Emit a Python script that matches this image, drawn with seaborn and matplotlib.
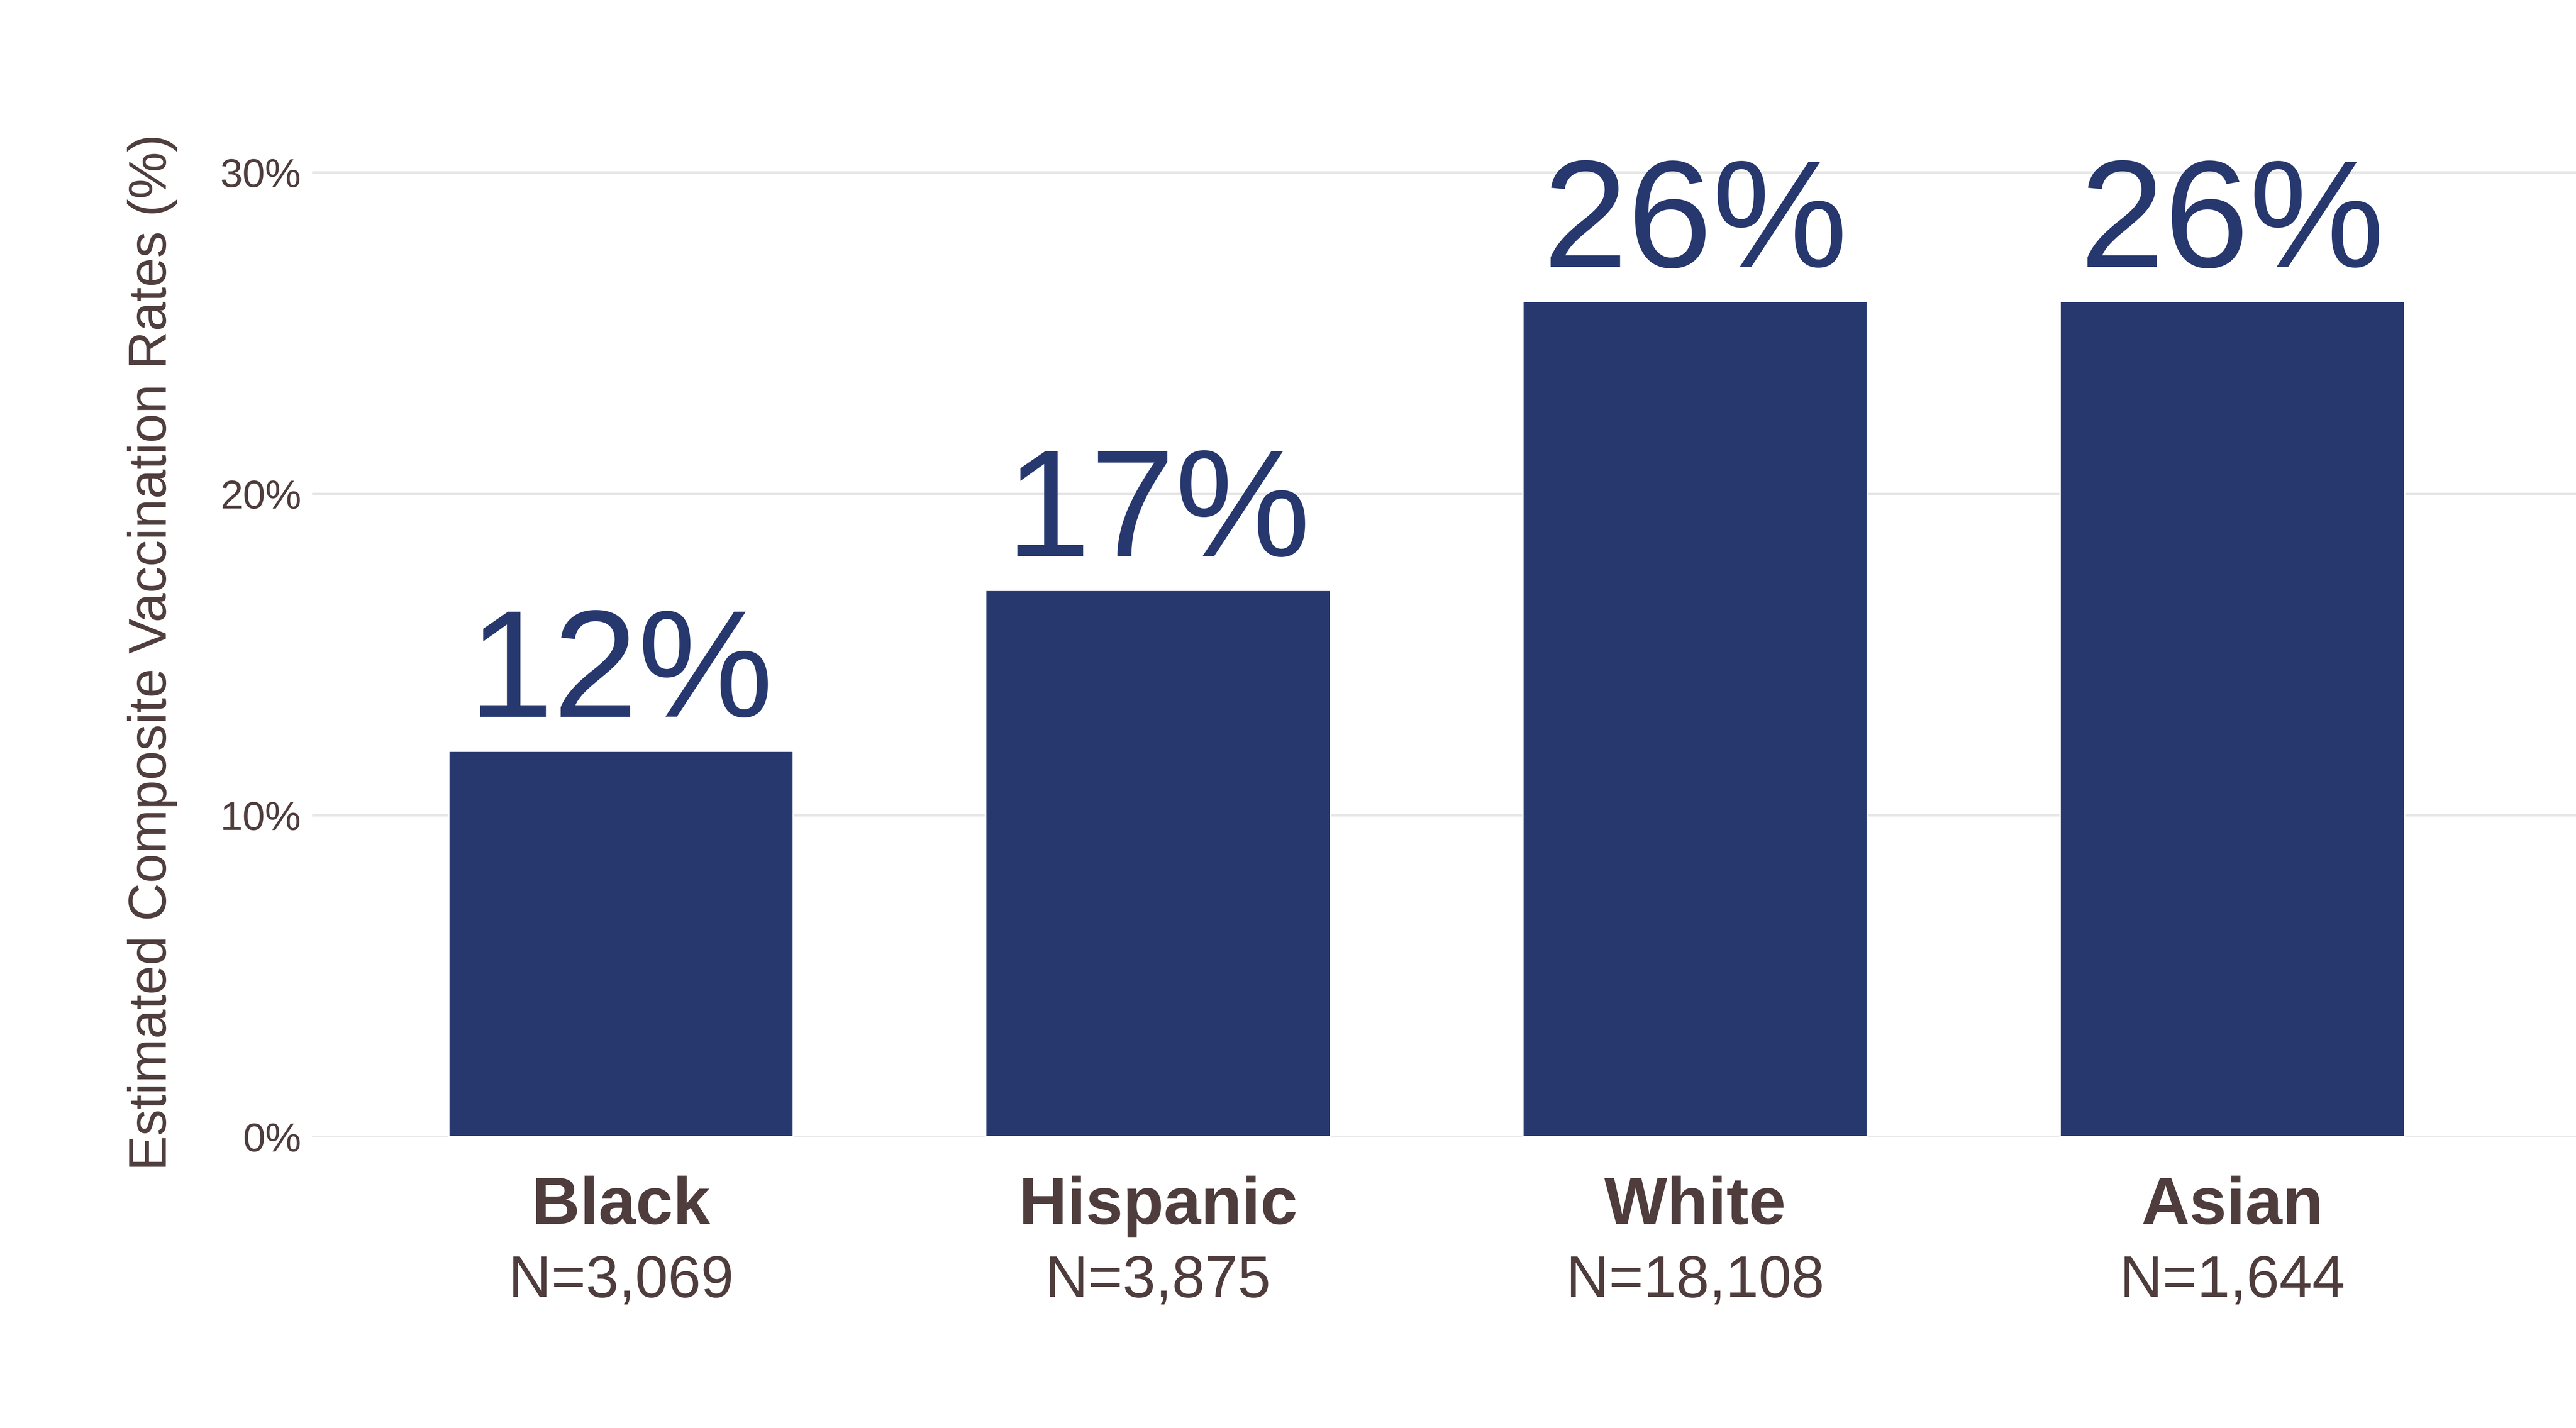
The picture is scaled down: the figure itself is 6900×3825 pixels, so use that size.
import matplotlib
matplotlib.use("Agg")
import matplotlib.pyplot as plt
import seaborn as sns
import pandas as pd

# values
groups = ["Black", "Hispanic", "White", "Asian"]
rates = [12, 17, 26, 26]
sample_sizes = ["N=3,069", "N=3,875", "N=18,108", "N=1,644"]
y_ticks = [0, 10, 20, 30]
y_tick_labels = ["0%", "10%", "20%", "30%"]

bar_color = "#27386F"
text_color = "#4F3D3D"
grid_color = "#E6E6E6"

sns.set_style("white")
plt.rcParams["font.family"] = ["Liberation Sans", "DejaVu Sans"]

df = pd.DataFrame({"group": groups, "rate": rates})

fig = plt.figure(figsize=(23, 12.75), dpi=300)
ax = fig.add_axes([0.1212, 0.2039, 0.8788, 0.7203])

sns.barplot(data=df, x="group", y="rate", color=bar_color, width=0.642,
            saturation=1, ax=ax, zorder=2)

ax.set_ylim(0, 32)
ax.set_xlim(-0.575, 3.64)
ax.set_yticks(y_ticks)
ax.set_yticklabels(y_tick_labels, fontsize=26, color=text_color)
ax.tick_params(axis="y", length=0, pad=7)
ax.yaxis.grid(True, color=grid_color, linewidth=1.5, zorder=0)
ax.set_axisbelow(True)
sns.despine(ax=ax, left=True, bottom=True, top=True, right=True)

ax.set_xticks(range(len(groups)))
ax.set_xticklabels([])
ax.tick_params(axis="x", length=0)
ax.set_xlabel("")
ax.set_ylabel("Estimated Composite Vaccination Rates (%)", fontsize=34,
              color=text_color)
ax.yaxis.set_label_coords(-0.0595, 0.471)

# value labels above the bars
for i, v in enumerate(rates):
    ax.annotate(f"{v}%", xy=(i, v), xytext=(0, 22), textcoords="offset points",
                ha="center", va="baseline", fontsize=98, color=bar_color)

# group names and sample sizes under the bars
for i, (g, n) in enumerate(zip(groups, sample_sizes)):
    ax.annotate(g, xy=(i, 0), xytext=(0, -56), textcoords="offset points",
                ha="center", va="baseline", fontsize=43, fontweight="bold",
                color=text_color, annotation_clip=False)
    ax.annotate(n, xy=(i, 0), xytext=(0, -103), textcoords="offset points",
                ha="center", va="baseline", fontsize=38, color=text_color,
                annotation_clip=False)

fig.savefig("out.png", dpi=300, facecolor="white")
